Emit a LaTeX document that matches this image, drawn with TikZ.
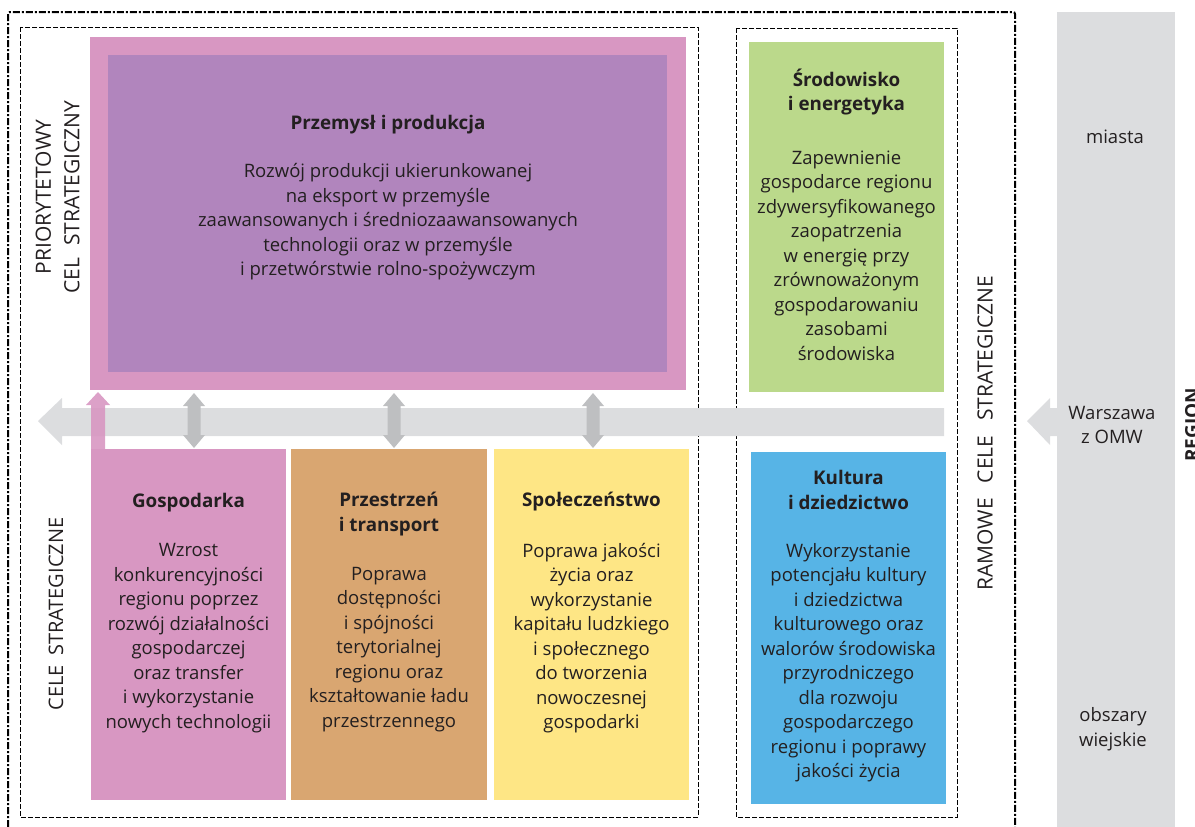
\documentclass[tikz,border=0pt]{standalone}
\usepackage{fontspec}
\setmainfont{Open Sans}
\definecolor{pinkc}{HTML}{D897C2}
\definecolor{purplec}{HTML}{B185BD}
\definecolor{brownc}{HTML}{D9A671}
\definecolor{yellowc}{HTML}{FEE685}
\definecolor{greenc}{HTML}{BBD98B}
\definecolor{bluec}{HTML}{57B4E6}
\definecolor{grayc}{HTML}{DCDDDF}
\definecolor{dgrayc}{HTML}{BEBFC1}
\definecolor{txt}{HTML}{231F20}
\begin{document}
\begin{tikzpicture}[x=1pt,y=-1pt,
  box/.style={draw=none, inner sep=0pt, outer sep=0pt},
  body/.style={font=\fontsize{18.5}{24.5}\selectfont, align=center, text=txt, inner sep=0pt},
  ttl/.style={font=\fontsize{18.8}{24.5}\selectfont\bfseries, align=center, text=txt, inner sep=0pt},
  vlab/.style={font=\fontsize{21}{28.5}\selectfont, align=center, text=txt, inner sep=0pt, rotate=90},
  outerframe/.style={line width=2pt, dash pattern=on 7pt off 2pt on 2pt off 2pt},
  innerframe/.style={line width=1pt, dash pattern=on 5pt off 2pt}]
\useasboundingbox (0,0) rectangle (1195,827);
\clip (0,0) rectangle (1195,827);

% frames
\draw[outerframe, rounded corners=2pt] (8,840) -- (8,12) -- (1015,12) -- (1015,840);
\draw[innerframe] (20,27) rectangle (698,817);
\draw[innerframe] (736,28) rectangle (957,817);

% right column
\node[box, fill=grayc, minimum width=118pt, minimum height=830pt] (col) at (1116,427) {};

% main gray arrow
\fill[grayc] (38,421) -- (62,398) -- (62,408) -- (944,408) -- (944,436) -- (62,436) -- (62,445) -- cycle;
% right arrow
\fill[grayc] (1027,421) -- (1050,398) -- (1050,408) -- (1058,408) -- (1058,436) -- (1050,436) -- (1050,445) -- cycle;

% priority box
\node[box, fill=pinkc, minimum width=596pt, minimum height=353pt] (prio) at (388,213.5) {};
\node[box, fill=purplec, minimum width=559pt, minimum height=317pt] (prioin) at (387.5,213.5) {};
\node[ttl] (prioT) at (388,125) {Przemysł i produkcja};
\node[body] (prioB) at (388,222) {Rozwój produkcji ukierunkowanej\\na eksport w przemyśle\\zaawansowanych i średniozaawansowanych\\technologii oraz w przemyśle\\i przetwórstwie rolno-spożywczym};

% bottom boxes
\node[box, fill=pinkc, minimum width=195pt, minimum height=351pt] (gosp) at (188.5,624.5) {};
\node[ttl] (gospT) at (188.5,503) {Gospodarka};
\node[body] (gospB) at (188.5,638) {Wzrost\\konkurencyjności\\regionu poprzez\\rozwój działalności\\gospodarczej\\oraz transfer\\i wykorzystanie\\nowych technologii};

\node[box, fill=brownc, minimum width=196pt, minimum height=351pt] (przes) at (389,624.5) {};
\node[ttl] (przesT) at (389,514) {Przestrzeń\\i transport};
\node[body] (przesB) at (389,649.5) {Poprawa\\dostępności\\i spójności\\terytorialnej\\regionu oraz\\kształtowanie ładu\\przestrzennego};

\node[box, fill=yellowc, minimum width=195pt, minimum height=351pt] (spol) at (591.5,624.5) {};
\node[ttl] (spolT) at (591.5,502) {Społeczeństwo};
\node[body] (spolB) at (591.5,638) {Poprawa jakości\\życia oraz\\wykorzystanie\\kapitału ludzkiego\\i społecznego\\do tworzenia\\nowoczesnej\\gospodarki};

% right boxes
\node[box, fill=greenc, minimum width=195pt, minimum height=350pt] (srod) at (846.5,217) {};
\node[ttl] (srodT) at (846.5,92) {Środowisko\\i energetyka};
\node[body] (srodB) at (846.5,255.5) {Zapewnienie\\gospodarce regionu\\zdywersyfikowanego\\zaopatrzenia\\w energię przy\\zrównoważonym\\gospodarowaniu\\zasobami\\środowiska};

\node[box, fill=bluec, minimum width=195pt, minimum height=352pt] (kult) at (848.5,628) {};
\node[ttl] (kultT) at (848.5,490) {Kultura\\i dziedzictwo};
\node[body] (kultB) at (848.5,662.5) {Wykorzystanie\\potencjału kultury\\i dziedzictwa\\kulturowego oraz\\walorów środowiska\\przyrodniczego\\dla rozwoju\\gospodarczego\\regionu i poprawy\\jakości życia};

% double arrows
\foreach \c in {194,394,593}{
  \fill[dgrayc] (\c,393) -- (\c+11,406) -- (\c+6.5,406) -- (\c+6.5,435) -- (\c+11,435) -- (\c,448) -- (\c-11,435) -- (\c-6.5,435) -- (\c-6.5,406) -- (\c-11,406) -- cycle;
}
% pink up arrow
\fill[pinkc, fill opacity=0.9] (98,392) -- (110,405) -- (105,405) -- (105,449) -- (91,449) -- (91,405) -- (86,405) -- cycle;

% vertical labels
\node[vlab] (prioL) at (57.5,197) {PRIORYTETOWY\\CEL\hspace{0.3em} STRATEGICZNY};
\node[vlab, font=\fontsize{20}{26}\selectfont] (celeL) at (56,614) {CELE\hspace{0.2em} STRATEGICZNE};
\node[vlab] (ramL) at (985,433) {RAMOWE\hspace{0.45em} CELE\hspace{0.45em} STRATEGICZNE};

% right column labels
\node[body] (miasta) at (1115,137) {miasta};
\node[body] (wars) at (1112,425) {Warszawa\\z OMW};
\node[body] (obsz) at (1113,729) {obszary\\wiejskie};
\node[ttl, rotate=90, font=\fontsize{19}{24}\selectfont\bfseries] (reg) at (1192,425) {REGION};
\end{tikzpicture}
\end{document}
